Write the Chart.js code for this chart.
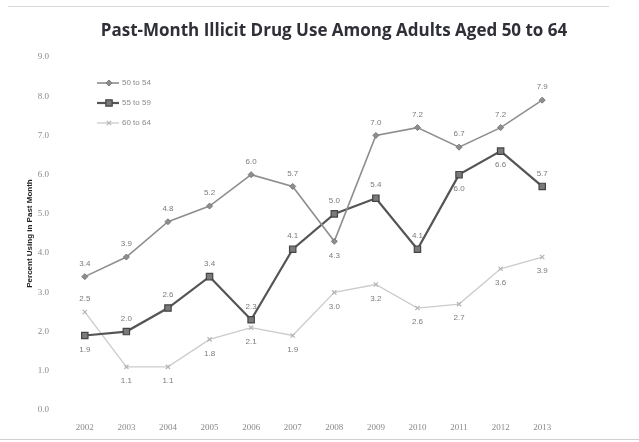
<!DOCTYPE html>
<html>
<head>
<meta charset="utf-8">
<script src="https://cdn.jsdelivr.net/npm/chart.js@4.4.1/dist/chart.umd.min.js"></script>
<style>
  html, body { margin: 0; padding: 0; background: #fff; }
  #wrap { position: relative; width: 639px; height: 442px; }
  #wrap:before { content: ''; position: absolute; left: 8px; right: 30px; top: 6px; border-top: 1px solid #d8d8d8; }
  #wrap:after { content: ''; position: absolute; left: 0; right: 0; top: 439px; border-top: 1px solid #cfcfcf; }
</style>
</head>
<body>
<div id="wrap"><canvas id="grafico" width="639" height="442"></canvas></div>
<script>
const years = ['2002', '2003', '2004', '2005', '2006', '2007', '2008', '2009', '2010', '2011', '2012', '2013'];
const ages50to54 = [3.4, 3.9, 4.8, 5.2, 6.0, 5.7, 4.3, 7.0, 7.2, 6.7, 7.2, 7.9];
const ages55to59 = [1.9, 2.0, 2.6, 3.4, 2.3, 4.1, 5.0, 5.4, 4.1, 6.0, 6.6, 5.7];
const ages60to64 = [2.5, 1.1, 1.1, 1.8, 2.1, 1.9, 3.0, 3.2, 2.6, 2.7, 3.6, 3.9];
const seriesNames = ['50 to 54', '55 to 59', '60 to 64'];
const yTicks = [0, 1, 2, 3, 4, 5, 6, 7, 8, 9];
const titulo = 'Past-Month Illicit Drug Use Among Adults Aged 50 to 64';

// donde va cada etiqueta de valor: 1 = arriba del punto, -1 = abajo
const labelSide = [
    [1, 1, 1, 1, 1, 1, -1, 1, 1, 1, 1, 1],
    [-1, 1, 1, 1, 1, 1, 1, 1, 1, -1, -1, 1],
    [1, -1, -1, -1, -1, -1, -1, -1, -1, -1, -1, -1]
];

// título centrado sobre todo el lienzo
const tituloPlugin = {
    id: 'tituloPlugin',
    afterDraw(chart) {
        const ctx = chart.ctx;
        ctx.save();
        ctx.font = 'bold 17px "Open Sans"';
        ctx.fillStyle = '#2f2f37';
        ctx.textAlign = 'center';
        ctx.textBaseline = 'middle';
        ctx.fillText(titulo, 334, 31);
        ctx.restore();
    }
};

// etiquetas de valor sobre cada punto
const valueLabels = {
    id: 'valueLabels',
    afterDatasetsDraw(chart) {
        const ctx = chart.ctx;
        ctx.save();
        ctx.font = '8px "Liberation Sans"';
        ctx.fillStyle = '#7a7a7a';
        ctx.textAlign = 'center';
        ctx.textBaseline = 'middle';
        chart.data.datasets.forEach((ds, i) => {
            chart.getDatasetMeta(i).data.forEach((pt, j) => {
                const dy = labelSide[i][j] > 0 ? -13 : 14;
                ctx.fillText(ds.data[j].toFixed(1), pt.x, pt.y + dy);
            });
        });
        ctx.restore();
    }
};

// leyenda dentro del área del gráfico, arriba a la izquierda
const legendInside = {
    id: 'legendInside',
    afterDraw(chart) {
        const ctx = chart.ctx;
        const x0 = chart.chartArea.left + 33;
        const y0 = chart.chartArea.top + 26;
        chart.data.datasets.forEach((ds, i) => {
            const y = y0 + i * 20;
            ctx.save();
            ctx.strokeStyle = ds.borderColor;
            ctx.lineWidth = ds.borderWidth;
            ctx.beginPath();
            ctx.moveTo(x0, y);
            ctx.lineTo(x0 + 22, y);
            ctx.stroke();
            ctx.fillStyle = ds.pointBackgroundColor;
            ctx.strokeStyle = ds.pointBorderColor;
            ctx.lineWidth = ds.pointBorderWidth;
            Chart.helpers.drawPoint(ctx, {
                pointStyle: ds.pointStyle,
                radius: ds.pointRadius,
                borderWidth: ds.pointBorderWidth
            }, x0 + 12, y);
            ctx.font = '8px "Liberation Sans"';
            ctx.fillStyle = '#8a8a8a';
            ctx.textBaseline = 'middle';
            ctx.fillText(ds.label, x0 + 25, y);
            ctx.restore();
        });
    }
};

const grafico = document.getElementById('grafico').getContext('2d');

window.graficaDrogas = new Chart(grafico, {
    type: 'line',
    data: {
        labels: years,
        datasets: [
            {
                label: seriesNames[0],
                data: ages50to54,
                borderColor: '#8e8e8e',
                borderWidth: 1.6,
                pointStyle: 'rectRot',
                pointRadius: 3,
                pointBackgroundColor: '#8e8e8e',
                pointBorderColor: '#7a7a7a',
                pointBorderWidth: 1
            },
            {
                label: seriesNames[1],
                data: ages55to59,
                borderColor: '#555555',
                borderWidth: 2.2,
                pointStyle: 'rect',
                pointRadius: 4.5,
                pointBackgroundColor: '#7a7a7a',
                pointBorderColor: '#444444',
                pointBorderWidth: 1.2
            },
            {
                label: seriesNames[2],
                data: ages60to64,
                borderColor: '#cbcbcb',
                borderWidth: 1.3,
                pointStyle: 'crossRot',
                pointRadius: 3,
                pointBackgroundColor: '#bdbdbd',
                pointBorderColor: '#b5b5b5',
                pointBorderWidth: 1.2
            }
        ]
    },
    options: {
        responsive: false,
        animation: false,
        devicePixelRatio: 1,
        layout: { padding: { left: 25, right: 76, top: 57, bottom: 8 } },
        plugins: {
            legend: { display: false },
            tooltip: { enabled: false },
            title: { display: false }
        },
        scales: {
            x: {
                offset: true,
                afterFit: (axis) => { axis.height = 24; },
                grid: { display: false, drawTicks: false },
                border: { display: false },
                ticks: {
                    color: '#8a8a8a',
                    font: { family: 'Liberation Serif', size: 9 },
                    padding: 12,
                    maxRotation: 0
                }
            },
            y: {
                min: yTicks[0],
                max: yTicks[yTicks.length - 1],
                afterBuildTicks: (axis) => { axis.ticks = yTicks.map(v => ({ value: v })); },
                afterFit: (axis) => { axis.width = 39; },
                grid: { display: false, drawTicks: false },
                border: { display: false },
                title: {
                    display: true,
                    text: 'Percent Using in Past Month',
                    color: '#222',
                    font: { family: 'Liberation Sans', size: 8, weight: 'bold' },
                    padding: { top: 0, bottom: 1 }
                },
                ticks: {
                    color: '#8a8a8a',
                    font: { family: 'Liberation Serif', size: 9 },
                    padding: 15,
                    callback: (v) => Number(v).toFixed(1)
                }
            }
        }
    },
    plugins: [valueLabels, legendInside, tituloPlugin]
});
</script>
</body>
</html>
